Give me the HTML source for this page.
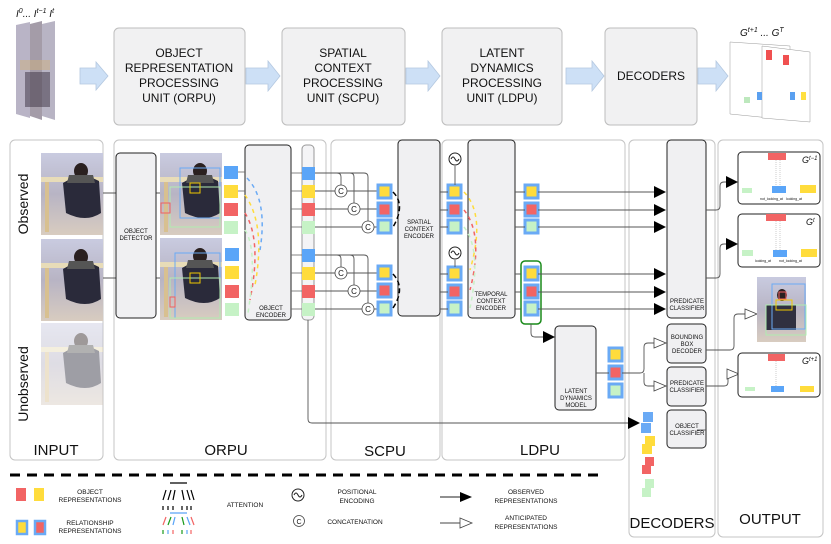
<!DOCTYPE html>
<html><head><meta charset="utf-8"><style>
body{margin:0;background:#fff;width:831px;height:544px;overflow:hidden}
svg{display:block}
text{font-family:"Liberation Sans",sans-serif;fill:#111}
</style></head><body>
<svg width="831" height="544" viewBox="0 0 831 544" xmlns="http://www.w3.org/2000/svg">
<defs>
<linearGradient id="ph" x1="0" y1="0" x2="0" y2="1"><stop offset="0" stop-color="#c9cbe0"/><stop offset="0.5" stop-color="#b8b4c4"/><stop offset="1" stop-color="#d8ccc0"/></linearGradient>
<g id="photo"><rect width="62" height="82" fill="url(#ph)"/><rect x="0" y="24" width="62" height="5" fill="#e8dcb8"/><rect x="4" y="29" width="4" height="50" fill="#d8c090"/><ellipse cx="40" cy="18" rx="7" ry="8" fill="#2a2020"/><path d="M22,30 Q40,18 58,28 L60,60 Q45,70 25,60z" fill="#2a2a3a"/><path d="M28,22 L52,22 L54,30 L26,30z" fill="#555"/></g>
</defs>

<!-- TOP ROW -->
<text x="16" y="17" font-size="10" font-family="Liberation Serif" font-style="italic">I<tspan font-size="7" dy="-4">0</tspan><tspan dy="4">... I</tspan><tspan font-size="7" dy="-4">t−1</tspan><tspan dy="4"> I</tspan><tspan font-size="7" dy="-4">t</tspan></text>
<g><polygon points="16,25 30,22 30,118 16,114" fill="#b9b4c6"/><polygon points="30,24 42,21 42,120 30,116" fill="#a49ca8"/><polygon points="42,24 55,21 55,120 42,116" fill="#b8b4c4"/><rect x="20" y="60" width="30" height="10" fill="#cdb080" opacity="0.5"/><rect x="25" y="72" width="25" height="35" fill="#3a3040" opacity="0.5"/></g>
<g fill="#f1f1f2" stroke="#bdbdbd" stroke-width="1">
<rect x="114" y="28" width="131" height="97" rx="5"/><rect x="282" y="28" width="123" height="97" rx="5"/><rect x="442" y="28" width="120" height="97" rx="5"/><rect x="605" y="28" width="92" height="97" rx="5"/></g>
<g font-size="12" text-anchor="middle">
<text x="179" y="57">OBJECT</text><text x="179" y="72">REPRESENTATION</text><text x="179" y="87">PROCESSING</text><text x="179" y="102">UNIT (ORPU)</text>
<text x="343" y="57">SPATIAL</text><text x="343" y="72">CONTEXT</text><text x="343" y="87">PROCESSING</text><text x="343" y="102">UNIT (SCPU)</text>
<text x="502" y="57">LATENT</text><text x="502" y="72">DYNAMICS</text><text x="502" y="87">PROCESSING</text><text x="502" y="102">UNIT (LDPU)</text>
<text x="651" y="80">DECODERS</text></g>
<g fill="#cde0f6" stroke="#b4c8e0" stroke-width="0.8">
<path d="M80,68 h16 v-6 l12,14 l-12,14 v-6 h-16z"/><path d="M246,68 h22 v-7 l12,15 l-12,15 v-7 h-22z"/><path d="M406,68 h22 v-7 l12,15 l-12,15 v-7 h-22z"/><path d="M566,68 h26 v-7 l12,15 l-12,15 v-7 h-26z"/><path d="M698,68 h18 v-7 l12,15 l-12,15 v-7 h-18z"/></g>
<text x="740" y="36" font-size="10" font-family="Liberation Serif" font-style="italic">G<tspan font-size="7" dy="-4">t+1</tspan><tspan dy="4">  ...  G</tspan><tspan font-size="7" dy="-4">T</tspan></text>
<polygon points="730,42 790,46 790,120 730,114" fill="#fff" stroke="#999" stroke-width="0.5"/><polygon points="762,46 810,52 810,122 762,118" fill="#fff" stroke="#999" stroke-width="0.5"/>
<rect x="766" y="50" width="6" height="10" fill="#f05050"/><rect x="783" y="55" width="6" height="10" fill="#f05050"/><rect x="744" y="97" width="6" height="6" fill="#bde8bd"/><rect x="757" y="92" width="5" height="8" fill="#5aa0f0"/><rect x="790" y="92" width="5" height="8" fill="#5aa0f0"/><rect x="801" y="92" width="5" height="8" fill="#ffe040"/>

<!-- PANELS -->
<g fill="none" stroke="#c4c4c4" stroke-width="1">
<rect x="10" y="140" width="93" height="320" rx="5"/><rect x="114" y="140" width="212" height="320" rx="5"/><rect x="331" y="140" width="109" height="320" rx="5"/><rect x="442" y="140" width="183" height="320" rx="5"/><rect x="629" y="140" width="86" height="397" rx="5"/><rect x="718" y="140" width="105" height="397" rx="5"/></g>
<g font-size="15" text-anchor="middle"><text x="56" y="455">INPUT</text><text x="226" y="455">ORPU</text><text x="385" y="456">SCPU</text><text x="540" y="455">LDPU</text><text x="672" y="528">DECODERS</text><text x="770" y="524">OUTPUT</text></g>
<text transform="translate(28,204) rotate(-90)" font-size="14" text-anchor="middle">Observed</text>
<text transform="translate(28,384) rotate(-90)" font-size="14" text-anchor="middle">Unobserved</text>
<use href="#photo" x="41" y="153"/><use href="#photo" x="41" y="239"/>
<g opacity="0.45"><use href="#photo" x="41" y="323"/></g>
<line x1="103" y1="193" x2="116" y2="193" stroke="#555"/><line x1="103" y1="278" x2="116" y2="278" stroke="#555"/>
<line x1="156" y1="193" x2="160" y2="193" stroke="#555"/><line x1="156" y1="278" x2="160" y2="278" stroke="#555"/>

<g fill="#f0f0f2" stroke="#222" stroke-width="1">
<rect x="116" y="153" width="40" height="165" rx="4"/><rect x="245" y="145" width="46" height="175" rx="4"/><rect x="398" y="140" width="42" height="176" rx="4"/><rect x="468" y="140" width="47" height="178" rx="4"/><rect x="667" y="140" width="39" height="178" rx="4"/><rect x="667" y="324" width="39" height="39" rx="4"/><rect x="667" y="367" width="39" height="39" rx="4"/><rect x="667" y="410" width="39" height="38" rx="4"/><rect x="555" y="326" width="41" height="84" rx="4"/></g>
<rect x="302" y="145" width="12" height="175" rx="4" fill="#f4f4f6" stroke="#999"/>
<g font-size="6" text-anchor="middle" fill="#222">
<text x="136" y="233">OBJECT</text><text x="136" y="240">DETECTOR</text>
<text x="271" y="310">OBJECT</text><text x="271" y="317">ENCODER</text>
<text x="419" y="224">SPATIAL</text><text x="419" y="231">CONTEXT</text><text x="419" y="238">ENCODER</text>
<text x="491" y="296">TEMPORAL</text><text x="491" y="303">CONTEXT</text><text x="491" y="310">ENCODER</text>
<text x="687" y="303">PREDICATE</text><text x="687" y="310">CLASSIFIER</text>
<text x="687" y="339">BOUNDING</text><text x="687" y="346">BOX</text><text x="687" y="353">DECODER</text>
<text x="687" y="385">PREDICATE</text><text x="687" y="392">CLASSIFIER</text>
<text x="687" y="428">OBJECT</text><text x="687" y="435">CLASSIFIER</text>
<text x="576" y="393">LATENT</text><text x="576" y="400">DYNAMICS</text><text x="576" y="407">MODEL</text></g>

<use href="#photo" x="160" y="153"/><use href="#photo" x="160" y="238"/>
<g fill="none" stroke-width="1"><rect x="180" y="168" width="40" height="50" stroke="#6aaaf5"/><rect x="170" y="187" width="50" height="40" stroke="#b0ecb0"/><rect x="190" y="183" width="10" height="10" stroke="#f0c800"/><rect x="161" y="203" width="9" height="10" stroke="#f06060"/>
<rect x="175" y="253" width="45" height="65" stroke="#6aaaf5"/><rect x="170" y="278" width="50" height="40" stroke="#b0ecb0"/><rect x="190" y="273" width="10" height="10" stroke="#f0c800"/><rect x="170" y="297" width="5" height="10" stroke="#f06060"/></g>

<g>
<rect x="224" y="166" width="14" height="13" fill="#5aa5f8"/><rect x="224" y="185" width="14" height="13" fill="#ffdc3c"/><rect x="224" y="203" width="14" height="13" fill="#f26464"/><rect x="224" y="221" width="14" height="13" fill="#c6f2c6"/>
<rect x="225" y="248" width="14" height="13" fill="#5aa5f8"/><rect x="225" y="266" width="14" height="13" fill="#ffdc3c"/><rect x="225" y="285" width="14" height="13" fill="#f26464"/><rect x="225" y="303" width="14" height="13" fill="#c6f2c6"/>
<rect x="302" y="167" width="13" height="13" fill="#5aa5f8"/><rect x="302" y="185" width="13" height="13" fill="#ffdc3c"/><rect x="302" y="203" width="13" height="13" fill="#f26464"/><rect x="302" y="221" width="13" height="13" fill="#c6f2c6"/>
<rect x="302" y="249" width="13" height="13" fill="#5aa5f8"/><rect x="302" y="267" width="13" height="13" fill="#ffdc3c"/><rect x="302" y="285" width="13" height="13" fill="#f26464"/><rect x="302" y="303" width="13" height="13" fill="#c6f2c6"/></g>
<g fill="none" stroke-width="1.5" stroke-dasharray="4,4">
<path d="M247,178 Q268,200 260,250" stroke="#6aaaf5"/><path d="M245,195 Q266,225 255,285" stroke="#ffdc3c"/><path d="M245,213 Q262,240 250,300" stroke="#f26464"/><path d="M245,230 Q258,250 248,313" stroke="#c6f2c6"/></g>
<g stroke="#666" stroke-width="0.8">
<line x1="238" y1="172" x2="245" y2="172"/><line x1="238" y1="191" x2="245" y2="191"/><line x1="291" y1="173" x2="302" y2="173"/><line x1="291" y1="191" x2="302" y2="191"/><line x1="291" y1="209" x2="302" y2="209"/><line x1="291" y1="227" x2="302" y2="227"/><line x1="291" y1="255" x2="302" y2="255"/><line x1="291" y1="273" x2="302" y2="273"/><line x1="291" y1="291" x2="302" y2="291"/><line x1="291" y1="309" x2="302" y2="309"/></g>

<g fill="none" stroke="#555" stroke-width="0.9">
<path d="M315,173 H364 Q368,173 368,177 V226"/><path d="M315,173 H337 Q341,173 341,177 V190"/><path d="M315,173 H350 Q354,173 354,177 V208"/>
<path d="M315,191 H377 M315,209 H377 M315,227 H377"/>
<path d="M315,255 H364 Q368,255 368,259 V308"/><path d="M315,255 H337 Q341,255 341,259 V272"/><path d="M315,255 H350 Q354,255 354,259 V290"/>
<path d="M315,273 H377 M315,291 H377 M315,309 H377"/>
<path d="M308,320 V419 Q308,423 312,423 H630"/></g>
<g fill="#fff" stroke="#444" stroke-width="0.8"><circle cx="341" cy="191" r="6"/><circle cx="354" cy="209" r="6"/><circle cx="368" cy="227" r="6"/><circle cx="341" cy="273" r="6"/><circle cx="354" cy="291" r="6"/><circle cx="368" cy="309" r="6"/></g>
<g font-size="8" text-anchor="middle"><text x="341" y="194">C</text><text x="354" y="212">C</text><text x="368" y="230">C</text><text x="341" y="276">C</text><text x="354" y="294">C</text><text x="368" y="312">C</text></g>
<g stroke="#6aaaf5" stroke-width="3">
<rect x="378" y="185" width="13" height="13" fill="#ffdc3c"/><rect x="378" y="203" width="13" height="13" fill="#f26464"/><rect x="378" y="220" width="13" height="13" fill="#c6f2c6"/>
<rect x="378" y="266" width="13" height="13" fill="#ffdc3c"/><rect x="378" y="284" width="13" height="13" fill="#f26464"/><rect x="378" y="302" width="13" height="13" fill="#c6f2c6"/>
<rect x="448" y="185" width="13" height="13" fill="#ffdc3c"/><rect x="448" y="203" width="13" height="13" fill="#f26464"/><rect x="448" y="220" width="13" height="13" fill="#c6f2c6"/>
<rect x="448" y="267" width="13" height="13" fill="#ffdc3c"/><rect x="448" y="285" width="13" height="13" fill="#f26464"/><rect x="448" y="302" width="13" height="13" fill="#c6f2c6"/>
<rect x="525" y="185" width="13" height="13" fill="#ffdc3c"/><rect x="525" y="203" width="13" height="13" fill="#f26464"/><rect x="525" y="220" width="13" height="13" fill="#c6f2c6"/>
<rect x="525" y="267" width="13" height="13" fill="#ffdc3c"/><rect x="525" y="285" width="13" height="13" fill="#f26464"/><rect x="525" y="302" width="13" height="13" fill="#c6f2c6"/>
<rect x="609" y="348" width="13" height="13" fill="#ffdc3c"/><rect x="609" y="366" width="13" height="13" fill="#f26464"/><rect x="609" y="384" width="13" height="13" fill="#c6f2c6"/></g>
<rect x="521" y="261" width="20" height="63" rx="4" fill="none" stroke="#1a8a1a" stroke-width="1.5"/>
<g fill="none" stroke="#000" stroke-width="1.5" stroke-dasharray="5,3"><path d="M393,192 Q406,205 393,227"/><path d="M393,274 Q406,288 393,308"/></g>
<g fill="none" stroke="#555" stroke-width="0.9">
<path d="M440,192 H448 M440,210 H448 M440,227 H448 M440,274 H448 M440,292 H448 M440,309 H448"/>
<path d="M455,166 V185 M455,260 V267"/>
<path d="M515,192 H525 M515,210 H525 M515,227 H525 M515,274 H521 M515,292 H521 M515,309 H521"/>
<path d="M538,192 H664 M538,210 H664 M538,227 H664 M538,274 H664 M538,292 H664 M538,309 H664"/>
<path d="M531,324 V333 Q531,337 535,337 H554"/>
<path d="M596,373 H609 M622,373 H640 Q644,373 644,369 V347 Q644,343 648,343 H664 M644,373 V382 Q644,386 648,386 H664"/>
<path d="M706,210 H716 Q720,210 720,206 V186 Q720,182 724,182 H737 M706,278 H716 Q720,278 720,274 V248 Q720,244 724,244 H737"/>
<path d="M706,350 H730 Q734,350 734,346 V318 Q734,314 738,314 H756 M706,386 H724 Q728,386 728,382 V378 Q728,374 732,374 H738"/>
<path d="M697,430 H706"/></g>
<g fill="#000"><path d="M654,186 L666,192 L654,198z"/><path d="M654,204 L666,210 L654,216z"/><path d="M654,221 L666,227 L654,233z"/><path d="M654,268 L666,274 L654,280z"/><path d="M654,286 L666,292 L654,298z"/><path d="M654,303 L666,309 L654,315z"/><path d="M543,331 L555,337 L543,343z"/><path d="M628,417 L640,423 L628,429z"/><path d="M726,176 L738,182 L726,188z"/><path d="M726,238 L738,244 L726,250z"/></g>
<g fill="#fff" stroke="#444" stroke-width="0.8"><path d="M654,338 L666,343 L654,348z"/><path d="M654,381 L666,386 L654,391z"/><path d="M745,309 L757,314 L745,319z"/><path d="M727,369 L739,374 L727,379z"/></g>
<g fill="#fff" stroke="#222" stroke-width="1"><circle cx="455" cy="159" r="6"/><circle cx="455" cy="253" r="6"/></g>
<g fill="none" stroke="#222" stroke-width="1"><path d="M451,159 Q453,155 455,159 T459,159"/><path d="M451,253 Q453,249 455,253 T459,253"/></g>
<g fill="none" stroke-width="1.5" stroke-dasharray="4,4"><path d="M464,192 Q486,215 470,270" stroke="#ffdc3c"/><path d="M464,210 Q484,235 470,290" stroke="#f26464"/><path d="M464,227 Q482,250 470,308" stroke="#c6f2c6"/></g>
<g><rect x="643" y="412" width="10" height="10" fill="#6aaaf5"/><rect x="641" y="423" width="10" height="10" fill="#6aaaf5"/><rect x="645" y="436" width="10" height="10" fill="#ffdc3c"/><rect x="642" y="444" width="10" height="10" fill="#ffdc3c"/><rect x="645" y="457" width="9" height="9" fill="#f26464"/><rect x="642" y="465" width="9" height="9" fill="#f26464"/><rect x="645" y="479" width="9" height="9" fill="#c6f2c6"/><rect x="642" y="488" width="9" height="9" fill="#c6f2c6"/></g>

<g fill="#fff" stroke="#222" stroke-width="1"><rect x="738" y="152" width="82" height="52" rx="4"/><rect x="738" y="214" width="82" height="53" rx="4"/><rect x="738" y="353" width="82" height="44" rx="4"/></g>
<g><rect x="768" y="153" width="18" height="7" fill="#f26464"/><rect x="742" y="188" width="10" height="5" fill="#c6f2c6"/><rect x="772" y="186" width="14" height="7" fill="#5aa5f8"/><rect x="800" y="185" width="16" height="8" fill="#ffdc3c"/>
<rect x="766" y="214" width="20" height="7" fill="#f26464"/><rect x="742" y="250" width="11" height="6" fill="#c6f2c6"/><rect x="773" y="250" width="14" height="7" fill="#5aa5f8"/><rect x="801" y="249" width="16" height="8" fill="#ffdc3c"/>
<rect x="768" y="354" width="17" height="7" fill="#f26464"/><rect x="745" y="387" width="10" height="4" fill="#c6f2c6"/><rect x="771" y="386" width="13" height="6" fill="#5aa5f8"/><rect x="800" y="386" width="14" height="6" fill="#ffdc3c"/></g>
<g font-size="9" font-family="Liberation Serif" font-style="italic"><text x="802" y="163">G<tspan font-size="6" dy="-3">t−1</tspan></text><text x="806" y="225">G<tspan font-size="6" dy="-3">t</tspan></text><text x="802" y="364">G<tspan font-size="6" dy="-3">t+1</tspan></text></g>
<g stroke="#999" stroke-width="0.5" stroke-dasharray="1,1"><line x1="776" y1="160" x2="776" y2="186"/><line x1="780" y1="160" x2="780" y2="186"/><line x1="776" y1="221" x2="776" y2="250"/><line x1="780" y1="221" x2="780" y2="250"/><line x1="776" y1="361" x2="776" y2="386"/></g>
<g font-size="3.5" fill="#333"><text x="760" y="200">not_looking_at</text><text x="786" y="200">looking_at</text><text x="755" y="262">looking_at</text><text x="779" y="262">not_looking_at</text></g>
<rect x="757" y="277" width="49" height="65" fill="url(#ph)"/><ellipse cx="782" cy="295" rx="5" ry="6" fill="#2a2020"/><path d="M766,305 h30 v25 h-30z" fill="#303040"/>
<g fill="none" stroke-width="1"><rect x="772" y="284" width="33" height="45" stroke="#6aaaf5"/><rect x="766" y="305" width="40" height="30" stroke="#b0ecb0"/><rect x="776" y="300" width="16" height="10" stroke="#f0c800"/><rect x="779" y="292" width="7" height="7" stroke="#f26464"/></g>

<line x1="10" y1="475" x2="605" y2="475" stroke="#000" stroke-width="3" stroke-dasharray="10,7"/>
<rect x="16" y="488" width="10" height="13" fill="#f26464"/><rect x="34" y="488" width="10" height="13" fill="#ffdc3c"/>
<rect x="17" y="521" width="10" height="13" fill="#ffdc3c" stroke="#6aaaf5" stroke-width="2.5"/><rect x="35" y="521" width="10" height="13" fill="#f26464" stroke="#6aaaf5" stroke-width="2.5"/>
<g font-size="6.5" text-anchor="middle" fill="#222"><text x="90" y="494">OBJECT</text><text x="90" y="502">REPRESENTATIONS</text><text x="90" y="525">RELATIONSHIP</text><text x="90" y="533">REPRESENTATIONS</text>
<text x="245" y="507">ATTENTION</text><text x="357" y="494">POSITIONAL</text><text x="357" y="503">ENCODING</text><text x="355" y="524">CONCATENATION</text>
<text x="526" y="494">OBSERVED</text><text x="526" y="503">REPRESENTATIONS</text><text x="526" y="520">ANTICIPATED</text><text x="526" y="529">REPRESENTATIONS</text></g>
<g stroke="#000" stroke-width="1.2"><line x1="170" y1="483" x2="187" y2="483"/><path d="M163,500 l3,-10 M168,500 l3,-10 M173,500 l2,-10 M182,490 l2,10 M187,490 l3,10 M191,490 l3,10" fill="none"/><path d="M163,506 v4 M168,506 v4 M173,506 v4 M182,506 v4 M187,506 v4 M191,506 v4"/></g>
<g stroke-width="1.2" fill="none"><line x1="170" y1="513" x2="187" y2="513" stroke="#5aa5f8"/><path d="M163,525 l3,-8" stroke="#f26464"/><path d="M168,525 l3,-8" stroke="#1a9a1a"/><path d="M173,525 l2,-8" stroke="#5aa5f8"/><path d="M182,517 l2,8" stroke="#1a9a1a"/><path d="M187,517 l3,8" stroke="#5aa5f8"/><path d="M191,517 l3,8" stroke="#f26464"/><path d="M163,530 v4" stroke="#1a9a1a"/><path d="M168,530 v4" stroke="#5aa5f8"/><path d="M173,530 v4" stroke="#f26464"/><path d="M182,530 v4" stroke="#1a9a1a"/><path d="M187,530 v4" stroke="#5aa5f8"/><path d="M191,530 v4" stroke="#f26464"/></g>
<circle cx="298" cy="495" r="6" fill="#fff" stroke="#222"/><path d="M294,495 Q296,491 298,495 T302,495" fill="none" stroke="#222"/>
<circle cx="299" cy="521" r="5.5" fill="#fff" stroke="#444" stroke-width="0.8"/><text x="299" y="524" font-size="7" text-anchor="middle">C</text>
<line x1="440" y1="497" x2="462" y2="497" stroke="#222"/><path d="M460,492 L472,497 L460,502z" fill="#000"/>
<line x1="440" y1="523" x2="460" y2="523" stroke="#444"/><path d="M460,518 L472,523 L460,528z" fill="#fff" stroke="#444" stroke-width="0.8"/>
</svg>
</body></html>
